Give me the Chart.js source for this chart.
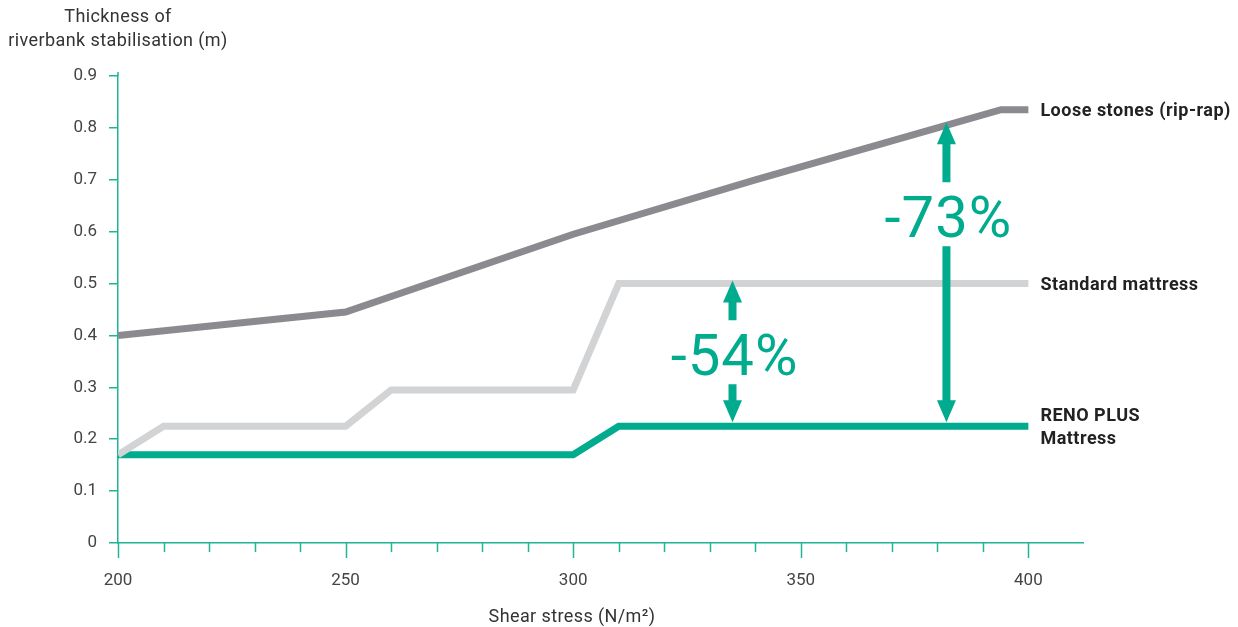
<!DOCTYPE html>
<html>
<head>
<meta charset="utf-8">
<script src="https://cdn.jsdelivr.net/npm/chart.js@4"></script>
<style>
  body { margin: 0; background: #fff; }
  #wrap { width: 1238px; height: 627px; position: relative; }
</style>
</head>
<body>
<div id="wrap"><canvas id="chart"></canvas></div>
<script>
// shear stress (N/m2) ticks and thickness (m) ticks
const shearTicks = [200, 250, 300, 350, 400];
const thicknessTicks = [0, 0.1, 0.2, 0.3, 0.4, 0.5, 0.6, 0.7, 0.8, 0.9];

// series
const looseX = [200, 250, 300, 340, 380, 394, 400];
const looseY = [0.40, 0.445, 0.595, 0.70, 0.80, 0.835, 0.835];
const standardX = [200, 210, 250, 260, 300, 310, 400];
const standardY = [0.17, 0.225, 0.225, 0.295, 0.295, 0.50, 0.50];
const renoX = [200, 300, 310, 400];
const renoY = [0.17, 0.17, 0.225, 0.225];
const seriesNames = ['Loose stones (rip-rap)', 'Standard mattress', 'RENO PLUS\nMattress'];

// reduction arrows
const reductionX = [335, 382];
const reductionFrom = [0.225, 0.225];
const reductionTo = [0.50, 0.805];
const reductionLabels = ['-54%', '-73%'];
const reductionLabelAt = [0.362, 0.628];

const GREEN = '#00ab8e';
const AXIS = '#1db596';
const TEXT = '#333333';
const FONT = "Roboto, 'Noto Sans', sans-serif";

function toPoints(xs, ys) {
    return xs.map((x, i) => ({ x: x, y: ys[i] }));
}

const extrasPlugin = {
    id: 'extras',
    afterDraw(chart) {
        const ctx = chart.ctx;
        const xs = chart.scales.x;
        const ys = chart.scales.y;
        const area = chart.chartArea;
        ctx.save();

        // x ticks, long at labelled values, short between
        ctx.strokeStyle = AXIS;
        ctx.lineWidth = 1.5;
        for (let i = 0; i < shearTicks.length; i++) {
            const v = shearTicks[i];
            const px = Math.round(xs.getPixelForValue(v)) + 0.5;
            ctx.beginPath();
            ctx.moveTo(px, area.bottom);
            ctx.lineTo(px, area.bottom + 15);
            ctx.stroke();
            if (i < shearTicks.length - 1) {
                const step = (shearTicks[i + 1] - v) / 5;
                for (let k = 1; k < 5; k++) {
                    const mx = Math.round(xs.getPixelForValue(v + k * step)) + 0.5;
                    ctx.beginPath();
                    ctx.moveTo(mx, area.bottom);
                    ctx.lineTo(mx, area.bottom + 9);
                    ctx.stroke();
                }
            }
        }
        // small overshoot of y axis at the top
        ctx.beginPath();
        ctx.moveTo(area.left, area.top - 4);
        ctx.lineTo(area.left, area.top);
        ctx.stroke();

        // axis titles
        ctx.fillStyle = TEXT;
        ctx.font = '18px ' + FONT;
        ctx.letterSpacing = '0.4px';
        ctx.textAlign = 'center';
        ctx.textBaseline = 'middle';
        ctx.fillText('Thickness of', area.left, 17);
        ctx.fillText('riverbank stabilisation (m)', area.left, 41);
        ctx.fillText('Shear stress (N/m\u00b2)', 572, 617);

        // series names at line ends
        ctx.font = 'bold 18px ' + FONT;
        ctx.letterSpacing = '0.5px';
        ctx.fillStyle = '#222';
        ctx.textAlign = 'left';
        chart.data.datasets.forEach((ds, i) => {
            const meta = chart.getDatasetMeta(i);
            const last = meta.data[meta.data.length - 1];
            const lines = seriesNames[i].split('\n');
            const y0 = last.y + 2 - (lines.length - 1) * 23 / 2;
            lines.forEach((t, j) => ctx.fillText(t, last.x + 12, y0 + j * 23));
        });

        // reduction arrows
        ctx.fillStyle = GREEN;
        ctx.strokeStyle = GREEN;
        ctx.lineWidth = 8;
        ctx.font = '58px ' + FONT;
        ctx.letterSpacing = '1px';
        ctx.textAlign = 'center';
        ctx.textBaseline = 'alphabetic';
        reductionX.forEach((v, i) => {
            const px = xs.getPixelForValue(v);
            const top = ys.getPixelForValue(reductionTo[i]) - 3;
            const bottom = ys.getPixelForValue(reductionFrom[i]) - 4;
            const mid = ys.getPixelForValue(reductionLabelAt[i]);
            const capHalf = 20;
            ctx.fillText(reductionLabels[i], px + 2, mid + capHalf);
            // shafts
            ctx.beginPath();
            ctx.moveTo(px, top + 20);
            ctx.lineTo(px, mid - capHalf - 15);
            ctx.moveTo(px, mid + capHalf + 9);
            ctx.lineTo(px, bottom - 20);
            ctx.stroke();
            // heads
            ctx.beginPath();
            ctx.moveTo(px, top);
            ctx.lineTo(px - 9.5, top + 22);
            ctx.lineTo(px + 9.5, top + 22);
            ctx.closePath();
            ctx.fill();
            ctx.beginPath();
            ctx.moveTo(px, bottom);
            ctx.lineTo(px - 9.5, bottom - 22);
            ctx.lineTo(px + 9.5, bottom - 22);
            ctx.closePath();
            ctx.fill();
        });
        ctx.restore();
    }
};

const lineStyle = {
    borderWidth: 7,
    pointRadius: 0,
    tension: 0,
    borderCapStyle: 'butt',
    borderJoinStyle: 'miter',
    fill: false
};

new Chart(document.getElementById('chart').getContext('2d'), {
    type: 'line',
    data: {
        datasets: [
            Object.assign({ label: seriesNames[0], data: toPoints(looseX, looseY), borderColor: '#8b8b8f' }, lineStyle),
            Object.assign({ label: seriesNames[1], data: toPoints(standardX, standardY), borderColor: '#d2d3d5' }, lineStyle),
            Object.assign({ label: seriesNames[2], data: toPoints(renoX, renoY), borderColor: GREEN }, lineStyle)
        ]
    },
    options: {
        responsive: true,
        maintainAspectRatio: false,
        animation: false,
        devicePixelRatio: 1,
        layout: { padding: { left: 0, right: 155, top: 76, bottom: 0 } },
        plugins: {
            legend: { display: false },
            tooltip: { enabled: false }
        },
        scales: {
            x: {
                type: 'linear',
                min: 200,
                max: 412,
                afterBuildTicks: s => { s.ticks = shearTicks.map(v => ({ value: v })); },
                afterFit: s => { s.height = 84; },
                grid: { display: false, drawTicks: false },
                border: { display: true, color: AXIS, width: 1.5 },
                ticks: { padding: 28, color: '#444', font: { family: FONT, size: 17 }, maxRotation: 0 }
            },
            y: {
                min: 0,
                max: 0.9,
                afterBuildTicks: s => { s.ticks = thicknessTicks.map(v => ({ value: v })); },
                afterFit: s => { s.width = 118; },
                grid: { drawOnChartArea: false, drawTicks: true, tickLength: 9, color: AXIS, lineWidth: 1.5 },
                border: { display: true, color: AXIS, width: 1.5 },
                ticks: {
                    padding: 12,
                    color: '#444',
                    font: { family: FONT, size: 17 },
                    callback: v => v === 0 ? '0' : v.toFixed(1)
                }
            }
        }
    },
    plugins: [extrasPlugin]
});
</script>
</body>
</html>
